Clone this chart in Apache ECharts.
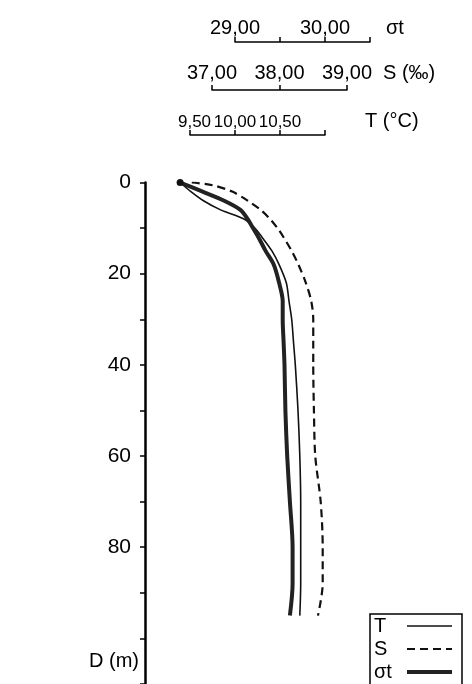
<!DOCTYPE html>
<html>
<head>
<meta charset="utf-8">
<script src="https://cdn.jsdelivr.net/npm/echarts@6/dist/echarts.min.js"></script>
<style>
  html, body { margin: 0; padding: 0; background: #fff; }
  #chart { width: 472px; height: 684px; }
</style>
</head>
<body>
<div id="chart"></div>
<script>
// ---- data ----
const depthT = [0, 2, 4, 6, 8, 10, 12, 15, 18, 22, 26, 30, 35, 40, 50, 60, 70, 80, 88, 95];
const temperature = [9.39, 9.51, 9.65, 9.84, 10.10, 10.22, 10.30, 10.41, 10.49, 10.57, 10.60, 10.63, 10.65, 10.67, 10.70, 10.72, 10.73, 10.73, 10.73, 10.72];

const depthS = [0, 0.6, 2, 4, 6, 8, 10, 12, 15, 18, 22, 26, 30, 35, 40, 50, 60, 70, 80, 88, 95];
const salinity = [36.70, 37.01, 37.30, 37.53, 37.72, 37.86, 37.97, 38.06, 38.18, 38.28, 38.39, 38.47, 38.50, 38.50, 38.50, 38.51, 38.53, 38.61, 38.64, 38.64, 38.57];

const depthSigma = [0, 2, 4, 6, 8, 10, 12, 15, 18, 22, 26, 30, 35, 40, 50, 60, 70, 80, 88, 95];
const sigmaT = [28.39, 28.64, 28.88, 29.06, 29.14, 29.20, 29.26, 29.34, 29.43, 29.49, 29.53, 29.53, 29.54, 29.55, 29.56, 29.58, 29.61, 29.64, 29.64, 29.61];

const depthTicks = [0, 20, 40, 60, 80];
const sigmaTicks = [29.0, 30.0];
const salinityTicks = [37.0, 38.0, 39.0];
const temperatureTicks = [9.5, 10.0, 10.5];

// ---- layout ----
const FONT = "'Liberation Sans', Arial, sans-serif";
const TOP = 182.5, H = 502.7;
const PLOT_LEFT = 145, PLOT_W = 300;
// scale segments: [value at left end, value at right end, left px, right px, line y]
const SIG = { a: 29, b: 30.5, l: 235, r: 370, y: 42 };
const SAL = { a: 37, b: 39, l: 212, r: 347, y: 90 };
const TEM = { a: 9.5, b: 11, l: 190, r: 325, y: 135 };

const fmt = v => v.toFixed(2).replace('.', ',');
function pairs(xs, ds) { return xs.map((x, i) => [x, ds[i]]); }

// hidden data axis on the main grid with the same scale as a visible segment
function dataAxis(seg) {
  const k = (seg.r - seg.l) / (seg.b - seg.a);
  const min = seg.a - (seg.l - PLOT_LEFT) / k;
  return { gridIndex: 0, type: 'value', show: false, min: min, max: min + PLOT_W / k,
           axisLine: { onZero: false } };
}

function topAxis(gi, seg, interval, ticks, name, nameGap, margin, fontSize) {
  return {
    gridIndex: gi, type: 'value', position: 'top', offset: TOP - seg.y,
    min: seg.a, max: seg.b, interval: interval,
    axisLine: { show: true, onZero: false, lineStyle: { color: '#000', width: 1.5 } },
    axisTick: { show: true, length: 5, lineStyle: { color: '#000', width: 1.5 } },
    splitLine: { show: false },
    axisLabel: {
      margin: margin, color: '#000', fontSize: fontSize, fontFamily: FONT,
      formatter: v => {
        const hit = ticks.some(t => Math.abs(t - v) < 1e-6);
        if (!hit) return '';
        const s = fmt(v);
        return s.indexOf(',') === 1 ? '{p|' + s + '}' : s;
      },
      rich: { p: { fontSize: fontSize, fontFamily: FONT, color: '#000', padding: [0, 0, 0, Math.round(fontSize * 0.55)] } }
    },
    name: name, nameLocation: 'end', nameGap: nameGap,
    nameTextStyle: { color: '#000', fontSize: 20, fontFamily: FONT, verticalAlign: 'bottom', padding: [0, 0, margin, 0] }
  };
}

const hiddenY = gi => ({ gridIndex: gi, type: 'value', show: false, min: 0, max: 110, inverse: true });

const chart = echarts.init(document.getElementById('chart'), null, { renderer: 'canvas' });
chart.setOption({
  backgroundColor: '#fff',
  animation: false,
  grid: [
    { left: PLOT_LEFT, top: TOP, width: PLOT_W, height: H },
    { left: SIG.l, top: TOP, width: SIG.r - SIG.l, height: H },
    { left: SAL.l, top: TOP, width: SAL.r - SAL.l, height: H },
    { left: TEM.l, top: TOP, width: TEM.r - TEM.l, height: H }
  ],
  xAxis: [
    dataAxis(SIG),                                                   // 0: sigma-t data
    topAxis(1, SIG, 0.5, sigmaTicks, 'σt', 16, 4, 20),                // 1
    topAxis(2, SAL, 1, salinityTicks, 'S (‰)', 36, 7, 20),            // 2
    topAxis(3, TEM, 0.5, temperatureTicks, 'T (°C)', 40, 4, 17),      // 3
    dataAxis(SAL),                                                   // 4: salinity data
    dataAxis(TEM)                                                    // 5: temperature data
  ],
  yAxis: [
    {
      gridIndex: 0, type: 'value', position: 'left', inverse: true,
      min: 0, max: 110, interval: 10,
      axisLine: { show: true, onZero: false, lineStyle: { color: '#000', width: 2.5 } },
      axisTick: { show: true, length: 5, lineStyle: { color: '#000', width: 1.5 } },
      splitLine: { show: false },
      axisLabel: {
        margin: 14, color: '#000', fontSize: 21, fontFamily: FONT,
        formatter: v => depthTicks.indexOf(v) >= 0 ? String(v) : ''
      },
      name: 'D (m)', nameLocation: 'end', nameGap: -23,
      nameTextStyle: { color: '#000', fontSize: 20, fontFamily: FONT, align: 'right', verticalAlign: 'middle', padding: [0, 6, 0, 0] }
    },
    hiddenY(1), hiddenY(2), hiddenY(3)
  ],
  legend: {
    orient: 'vertical', left: 370, top: 614, height: 140, align: 'right',
    data: ['T', 'S', 'σt'],
    itemWidth: 45, itemHeight: 14, itemGap: 3,
    padding: [2, 8, 20, 4],
    borderColor: '#000', borderWidth: 1.5,
    itemStyle: { opacity: 0 },
    lineStyle: { width: 'inherit' },
    formatter: n => '{a|' + n + '}',
    textStyle: {
      color: '#000', fontSize: 20, fontFamily: FONT,
      rich: { a: { width: 28, align: 'left', fontSize: 20, lineHeight: 20, fontFamily: FONT, color: '#000' } }
    }
  },
  series: [
    {
      name: 'T', type: 'line', xAxisIndex: 5, yAxisIndex: 0,
      data: pairs(temperature, depthT), smooth: 0.3, symbol: 'none',
      lineStyle: { color: '#111', width: 1.6 }, itemStyle: { color: '#111' }, z: 3
    },
    {
      name: 'S', type: 'line', xAxisIndex: 4, yAxisIndex: 0,
      data: pairs(salinity, depthS), smooth: 0.3, symbol: 'none',
      lineStyle: { color: '#111', width: 2.2, type: [8, 5] }, itemStyle: { color: '#111' }, z: 3
    },
    {
      name: 'σt', type: 'line', xAxisIndex: 0, yAxisIndex: 0,
      data: pairs(sigmaT, depthSigma).map((p, i) => i === 0
        ? { value: p, symbol: 'circle', symbolSize: 7 } : p),
      smooth: 0.3, symbol: 'none', showSymbol: true, clip: false,
      lineStyle: { color: '#222', width: 4 }, itemStyle: { color: '#111' }, z: 4
    }
  ]
});
</script>
</body>
</html>
